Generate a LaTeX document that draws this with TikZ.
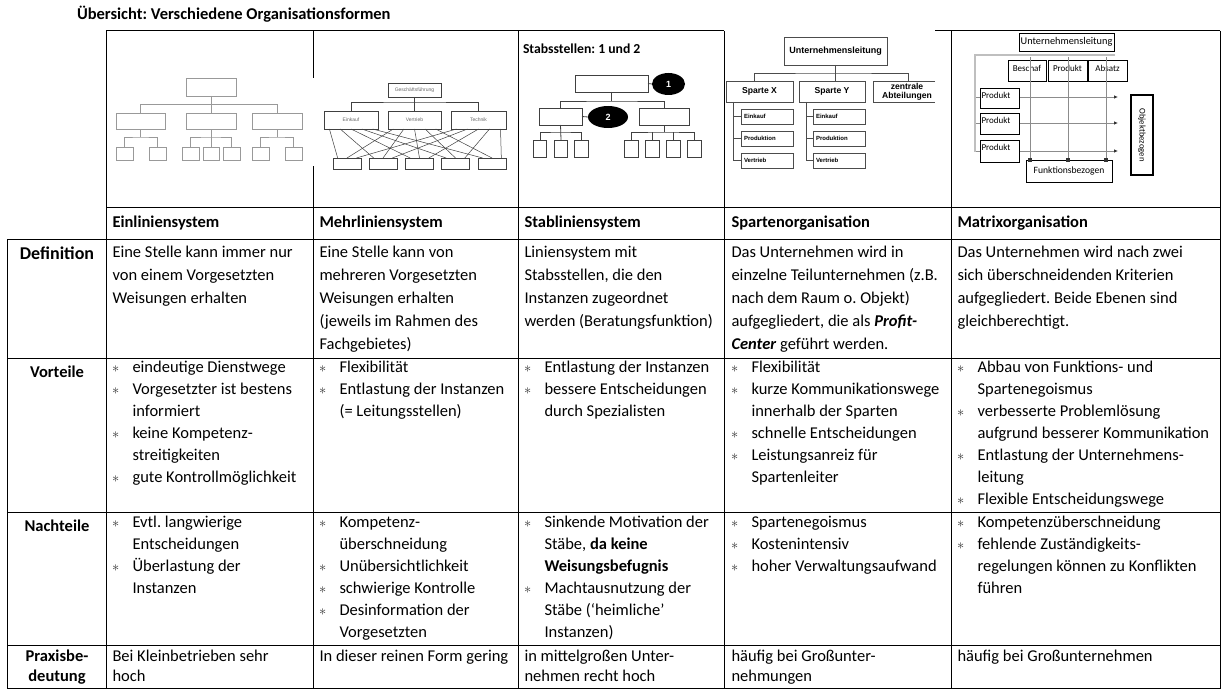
\documentclass[tikz,border=0pt]{standalone}
\usepackage{fontspec}
\setmainfont{Carlito}
\newfontfamily\arialf{Liberation Sans}
\usetikzlibrary{calc,shapes.geometric,arrows.meta}
\frenchspacing
\newcommand\bodyfont{\fontsize{16.5}{22}\selectfont}
\newcommand\bul{\makebox[20.5pt][l]{\color{black!80}\fontsize{14}{14}\selectfont$\ast$}}
\newcommand\Lx[1]{\hbox{#1}}
\newcommand\Bx[1]{\hbox{\bul #1}}
\newcommand\Cx[1]{\hbox{\hspace*{20.5pt}#1}}
\newcommand\Cell[5]{\node[celltext] (#1) at (#2,#3) {\vtop{\baselineskip=#4pt\relax #5}};}
\begin{document}
\begin{tikzpicture}[x=1pt,y=-1pt,
  every node/.style={inner sep=0pt,outer sep=0pt},
  grid/.style={line width=1pt,black},
  celltext/.style={anchor=base west,font=\bodyfont},
  hdr/.style={anchor=base west,font=\bodyfont\bfseries},
  lbl/.style={anchor=base,font=\bodyfont\bfseries},
  ebox/.style={draw=black!40,line width=0.8pt},
  eline/.style={draw=black!40,line width=0.8pt},
  mbox/.style={draw=black!75,line width=0.6pt,font=\arialf\fontsize{5}{5}\selectfont,text=black!60},
  mline/.style={draw=black!75,line width=0.5pt},
  sbox/.style={draw=black!75,line width=0.8pt},
  sline/.style={draw=black!75,line width=0.8pt},
  ell/.style={ellipse,fill=black,text=white,font=\arialf\bfseries\fontsize{9}{9}\selectfont},
  pbox/.style={draw=black!70,line width=0.8pt,font=\arialf\bfseries\fontsize{8.6}{9}\selectfont},
  psub/.style={draw=black!70,line width=0.8pt,minimum width=52pt,minimum height=15pt,text width=46pt,align=left,font=\arialf\bfseries\fontsize{6}{6}\selectfont},
  pline/.style={draw=black!70,line width=0.8pt},
  xbox/.style={draw=black,line width=0.8pt},
  xtext/.style={font=\fontsize{9}{9}\selectfont},
  xgray/.style={draw=black!25,line width=1.6pt},
  xline/.style={draw=black!45,line width=0.8pt}]
\useasboundingbox (0,0) rectangle (1222,690);
\fill[white] (0,0) rectangle (1222,690);

% title
\node[anchor=base west,font=\fontsize{16.5}{20}\selectfont\bfseries] (title) at (77,20) {Übersicht: Verschiedene Organisationsformen};

% ---------- Einliniensystem diagram ----------
\node[ebox,minimum width=50pt,minimum height=18pt] (e0) at (211,87) {};
\node[ebox,minimum width=49pt,minimum height=16pt] (e1) at (140.5,121) {};
\node[ebox,minimum width=50pt,minimum height=16pt] (e2) at (211,121) {};
\node[ebox,minimum width=50pt,minimum height=16pt] (e3) at (277,121) {};
\foreach \n/\x/\w in {e11/124.5/17,e12/157.5/17,e21/190.5/17,e22/211/16,e23/231.5/17,e31/260.5/17,e32/293.5/17}
  \node[ebox,minimum width=\w pt,minimum height=13pt] (\n) at (\x,153.5) {};
\coordinate (eb0) at (211,104.5);
\coordinate (eb1) at (140.5,137);
\coordinate (eb2) at (211,137);
\coordinate (eb3) at (277,137);
\draw[eline] (e0.south) -- (e2.north);
\draw[eline] (e1.north) |- (eb0) -| (e3.north);
\draw[eline] (e1.south) -- (eb1);
\draw[eline] (e11.north) |- (eb1) -| (e12.north);
\draw[eline] (e2.south) -- (e22.north);
\draw[eline] (e21.north) |- (eb2) -| (e23.north);
\draw[eline] (e3.south) -- (eb3);
\draw[eline] (e31.north) |- (eb3) -| (e32.north);

% ---------- Mehrliniensystem diagram ----------
\node[mbox,minimum width=53pt,minimum height=14pt] (gf) at (414.5,90) {Geschäftsführung};
\node[mbox,minimum width=54pt,minimum height=18pt] (me1) at (351,120) {Einkauf};
\node[mbox,minimum width=53pt,minimum height=18pt] (me2) at (414.5,120) {Vertrieb};
\node[mbox,minimum width=55pt,minimum height=18pt] (me3) at (478.5,120) {Technik};
\foreach \n/\x in {0/347,1/383,2/419.5,3/455.5,4/492}
  \node[mbox,minimum width=28pt,minimum height=11pt] (mb\n) at (\x,163.5) {};
\coordinate (mbus) at (414.5,102);
\draw[mline] (gf.south) -- (me2.north);
\draw[mline] (me1.north) |- (mbus) -| (me3.north);
\foreach \i in {1,2,3}{\foreach \j in {0,...,4}{
  \draw[mline] ($(me\i.south west)!{(\j+0.5)/5}!(me\i.south east)$) -- ($(mb\j.north west)!{(\i-0.5)/3}!(mb\j.north east)$);}}

% ---------- Stabliniensystem diagram ----------
\node[anchor=base west,font=\fontsize{13.7}{16}\selectfont\bfseries] (stt) at (523,54) {Stabsstellen: 1 und 2};
\node[sbox,minimum width=73pt,minimum height=17pt] (s0) at (611.5,83.5) {};
\node[ell,minimum width=33pt,minimum height=22pt] (sc1) at (668.5,84) {1};
\node[sbox,minimum width=43pt,minimum height=17pt] (s1) at (560.5,116.5) {};
\node[sbox,minimum width=50pt,minimum height=17pt] (s2) at (664,116.5) {};
\node[ell,minimum width=40pt,minimum height=22pt] (sc2) at (608,117) {2};
\foreach \n/\x in {s11/540,s12/561,s13/581.5,s21/631.5,s22/652.5,s23/673.5,s24/694.5}
  \node[sbox,minimum width=13.5pt,minimum height=17pt] (\n) at (\x,148.5) {};
\coordinate (sbus) at (611.5,101);
\coordinate (sb1) at (560.5,132);
\coordinate (sb2) at (664,132);
\draw[sline] (s0.east) -- (sc1.west);
\draw[sline] (s1.east) -- (sc2.west);
\draw[sline] (s0.south) -- (sbus);
\draw[sline] (s1.north) |- (sbus) -| (s2.north);
\draw[sline] (s1.south) -- (s12.north);
\draw[sline] (s11.north) |- (sb1) -| (s13.north);
\draw[sline] (s2.south) -- (sb2);
\draw[sline] (s21.north) |- (sb2) -| (s24.north);
\draw[sline] (s22.north) -- (s22.north |- sb2);
\draw[sline] (s23.north) -- (s23.north |- sb2);

% ---------- Spartenorganisation diagram ----------
\node[pbox,minimum width=103pt,minimum height=28pt,font=\arialf\bfseries\fontsize{9}{9}\selectfont] (ul4) at (835.5,51) {Unternehmensleitung};
\node[pbox,minimum width=67pt,minimum height=21pt] (spx) at (759.5,91.5) {Sparte X};
\node[pbox,minimum width=66pt,minimum height=21pt] (spy) at (832,91.5) {Sparte Y};
\draw[pline] (935,81) -- (873,81) -- (873,102) -- (935,102);
\begin{scope}
\clip (873,70) rectangle (935.5,110);
\node[align=center,font=\arialf\bfseries\fontsize{8.6}{9}\selectfont] (zab) at (907,91.5) {zentrale\\Abteilungen};
\end{scope}
\coordinate (pbus) at (835.5,73);
\coordinate (pdx) at (754,81);
\coordinate (pdz) at (908,81);
\draw[pline] (ul4.south) -- (ul4.south |- spy.north);
\draw[pline] (pdx) |- (pbus) -| (pdz);
\node[psub] (px1) at (767,116.5) {Einkauf};
\node[psub] (px2) at (767,138.5) {Produktion};
\node[psub] (px3) at (767,160.5) {Vertrieb};
\node[psub] (py1) at (839,116.5) {Einkauf};
\node[psub] (py2) at (839,138.5) {Produktion};
\node[psub] (py3) at (839,160.5) {Vertrieb};
\coordinate (pvx) at (733,102);
\coordinate (pvy) at (806,102);
\draw[pline] (pvx) |- (px3.west);
\draw[pline] (px1.west) -- (px1.west -| pvx);
\draw[pline] (px2.west) -- (px2.west -| pvx);
\draw[pline] (pvy) |- (py3.west);
\draw[pline] (py1.west) -- (py1.west -| pvy);
\draw[pline] (py2.west) -- (py2.west -| pvy);

% ---------- Matrixorganisation diagram ----------
\node[xbox,minimum width=95pt,minimum height=18pt,font=\fontsize{10.3}{10}\selectfont] (mu) at (1066.5,42) {Unternehmensleitung};
\coordinate (xf1) at (1115,55);
\coordinate (xf2) at (975,55);
\coordinate (xf3) at (975,152);
\draw[xgray] (xf1) -- (xf2) -- (xf3);
\node[xbox,minimum width=38pt,minimum height=21pt] (mc1) at (1027,70.5) {};
\node[xbox,minimum width=39pt,minimum height=21pt] (mc2) at (1067.5,70.5) {};
\node[xbox,minimum width=39pt,minimum height=21pt] (mc3) at (1107.5,70.5) {};
\node[xtext,yshift=2.5pt] (mc1t) at (mc1.center) {Beschaf};
\node[xtext,yshift=2.5pt] (mc2t) at (mc2.center) {Produkt};
\node[xtext,yshift=2.5pt] (mc3t) at (mc3.center) {Absatz};
\node[xbox,minimum width=86pt,minimum height=22pt,font=\fontsize{9.6}{10}\selectfont] (mf) at (1069,171) {Funktionsbezogen};
\foreach \x [count=\k] in {1030,1068,1106}{
  \coordinate (xv\k) at (\x,57);
  \draw[xline] (xv\k) -- (xv\k |- mf.north);
  \fill[black!80] ($(xv\k |- mf.north)+(-1.6,-1.6)$) rectangle ++(3.2,3.2);}
\foreach \y [count=\k] in {97,123,151}{
  \coordinate (xh\k) at (976,\y);
  \coordinate (xa\k) at (1118,\y);
  \draw[xline,-{Latex[length=4pt,width=3.5pt,color=black!80]}] (xh\k) -- (xa\k);}
\node[xbox,fill=white,minimum width=39pt,minimum height=20pt] (mr1) at (999.5,98) {};
\node[xbox,fill=white,minimum width=39pt,minimum height=21pt] (mr2) at (999.5,123.5) {};
\node[xbox,fill=white,minimum width=39pt,minimum height=22pt] (mr3) at (999.5,151) {};
\node[xtext,anchor=west] (mr1t) at ($(mr1.north west)+(1.5,7)$) {Produkt};
\node[xtext,anchor=west] (mr2t) at ($(mr2.north west)+(1.5,7)$) {Produkt};
\node[xtext,anchor=west] (mr3t) at ($(mr3.north west)+(1.5,7)$) {Produkt};
\node[draw=black,line width=2.5pt,minimum width=22pt,minimum height=80pt] (mo) at (1142,135) {};
\node[rotate=-90,font=\fontsize{8.7}{9}\selectfont] (mot) at (mo.center) {Objektbezogen};

% ---------- table grid ----------
\draw[grid] (106,31) -- (724,31);
\draw[grid] (935,31) -- (1220,31);
\draw[grid] (106,207) -- (1220,207);
\foreach \y in {239,358,512,645,688.5} \draw[grid] (7.5,\y) -- (1220,\y);
\draw[grid] (7.5,239) -- (7.5,688.5);
\foreach \x in {106,518,724,951,1220} \draw[grid] (\x,31) -- (\x,688.5);
\draw[grid] (313,31) -- (313,78);
\draw[grid] (313,166) -- (313,688.5);

% ---------- header row ----------
\node[hdr] (h1) at (112.5,227.5) {Einliniensystem};
\node[hdr] (h2) at (319.5,227.5) {Mehrliniensystem};
\node[hdr] (h3) at (524.5,227.5) {Stabliniensystem};
\node[hdr] (h4) at (731.5,227.5) {Spartenorganisation};
\node[hdr] (h5) at (957.5,227.5) {Matrixorganisation};

% ---------- row labels ----------
\node[lbl,font=\fontsize{18}{22}\selectfont\bfseries] (rdef) at (57,259.5) {Definition};
\node[lbl] (rvor) at (57,377.5) {Vorteile};
\node[lbl] (rnach) at (57,531.5) {Nachteile};
\node[lbl] (rpra) at (57,661.5) {\vtop{\baselineskip=20pt\relax\hbox to 0pt{\hss Praxisbe-\hss}\hbox to 0pt{\hss deutung\hss}}};

% ---------- Definition ----------
\Cell{d1}{112.5}{257.5}{23}{\Lx{Eine Stelle kann immer nur}\Lx{von einem Vorgesetzten}\Lx{Weisungen erhalten}}
\Cell{d2}{319.5}{257.5}{23}{\Lx{Eine Stelle kann von}\Lx{mehreren Vorgesetzten}\Lx{Weisungen erhalten}\Lx{(jeweils im Rahmen des}\Lx{Fachgebietes)}}
\Cell{d3}{524.5}{257.5}{23}{\Lx{Liniensystem mit}\Lx{Stabsstellen, die den}\Lx{Instanzen zugeordnet}\Lx{werden (Beratungsfunktion)}}
\Cell{d4}{731.5}{257.5}{23}{\Lx{Das Unternehmen wird in}\Lx{einzelne Teilunternehmen (z.B.}\Lx{nach dem Raum o. Objekt)}\Lx{aufgegliedert, die als \textbf{\textit{Profit-}}}\Lx{\textbf{\textit{Center}} geführt werden.}}
\Cell{d5}{957.5}{257.5}{23}{\Lx{Das Unternehmen wird nach zwei}\Lx{sich überschneidenden Kriterien}\Lx{aufgegliedert. Beide Ebenen sind}\Lx{gleichberechtigt.}}

% ---------- Vorteile ----------
\Cell{v1}{112}{372.5}{22}{\Bx{eindeutige Dienstwege}\Bx{Vorgesetzter ist bestens}\Cx{informiert}\Bx{keine Kompetenz-}\Cx{streitigkeiten}\Bx{gute Kontrollmöglichkeit}}
\Cell{v2}{319}{372.5}{22}{\Bx{Flexibilität}\Bx{Entlastung der Instanzen}\Cx{(= Leitungsstellen)}}
\Cell{v3}{524}{372.5}{22}{\Bx{Entlastung der Instanzen}\Bx{bessere Entscheidungen}\Cx{durch Spezialisten}}
\Cell{v4}{731}{372.5}{22}{\Bx{Flexibilität}\Bx{kurze Kommunikationswege}\Cx{innerhalb der Sparten}\Bx{schnelle Entscheidungen}\Bx{Leistungsanreiz für}\Cx{Spartenleiter}}
\Cell{v5}{957}{372.5}{22}{\Bx{Abbau von Funktions- und}\Cx{Spartenegoismus}\Bx{verbesserte Problemlösung}\Cx{aufgrund besserer Kommunikation}\Bx{Entlastung der Unternehmens-}\Cx{leitung}\Bx{Flexible Entscheidungswege}}

% ---------- Nachteile ----------
\Cell{n1}{112}{527.5}{22}{\Bx{Evtl. langwierige}\Cx{Entscheidungen}\Bx{Überlastung der}\Cx{Instanzen}}
\Cell{n2}{319}{527.5}{22}{\Bx{Kompetenz-}\Cx{überschneidung}\Bx{Unübersichtlichkeit}\Bx{schwierige Kontrolle}\Bx{Desinformation der}\Cx{Vorgesetzten}}
\Cell{n3}{524}{527.5}{22}{\Bx{Sinkende Motivation der}\Cx{Stäbe, \textbf{da keine}}\Cx{\textbf{Weisungsbefugnis}}\Bx{Machtausnutzung der}\Cx{Stäbe (‘heimliche’}\Cx{Instanzen)}}
\Cell{n4}{731}{527.5}{22}{\Bx{Spartenegoismus}\Bx{Kostenintensiv}\Bx{hoher Verwaltungsaufwand}}
\Cell{n5}{957}{527.5}{22}{\Bx{Kompetenzüberschneidung}\Bx{fehlende Zuständigkeits-}\Cx{regelungen können zu Konflikten}\Cx{führen}}

% ---------- Praxisbedeutung ----------
\Cell{p1}{112.5}{661.5}{20}{\Lx{Bei Kleinbetrieben sehr}\Lx{hoch}}
\Cell{p2}{319.5}{661.5}{20}{\Lx{In dieser reinen Form gering}}
\Cell{p3}{524.5}{661.5}{20}{\Lx{in mittelgroßen Unter-}\Lx{nehmen recht hoch}}
\Cell{p4}{731.5}{661.5}{20}{\Lx{häufig bei Großunter-}\Lx{nehmungen}}
\Cell{p5}{957.5}{661.5}{20}{\Lx{häufig bei Großunternehmen}}
\end{tikzpicture}
\end{document}
